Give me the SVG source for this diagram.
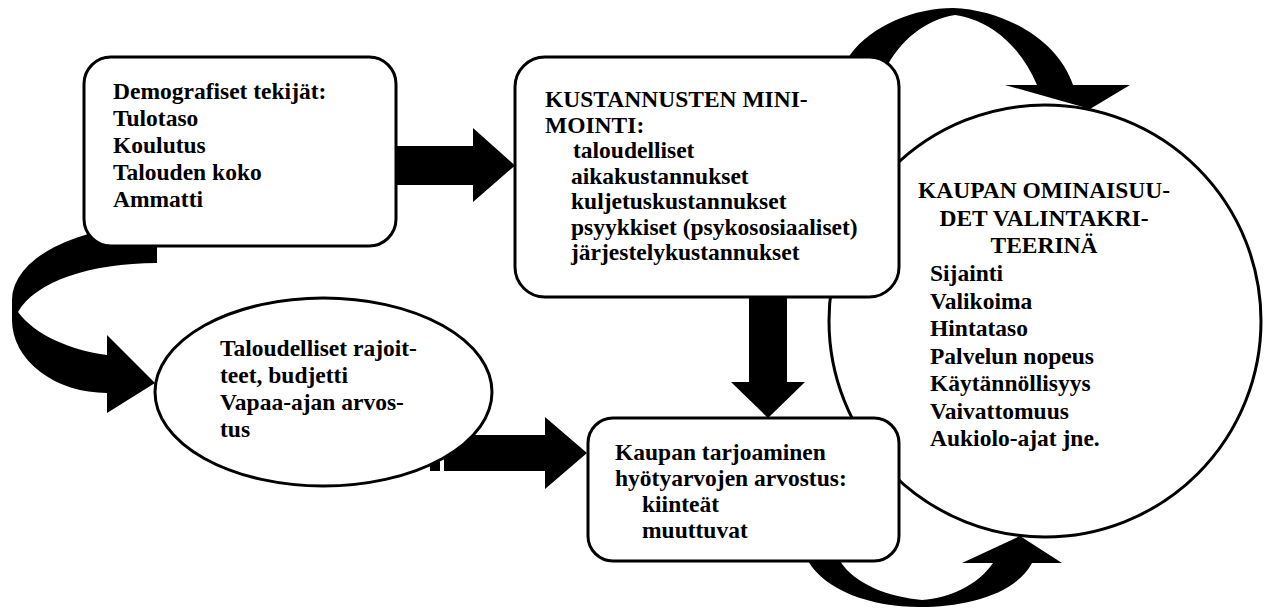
<svg xmlns="http://www.w3.org/2000/svg" width="1269" height="610" viewBox="0 0 1269 610">
<style>
.t{font-family:"Liberation Serif","Times New Roman",serif;font-weight:bold;font-size:23.5px;fill:#000}
.c{text-anchor:middle}
.box{fill:#fff;stroke:#000;stroke-width:3}
.arr{fill:#000;stroke:none}
</style>
<rect width="1269" height="610" fill="#fff"/>
<g id="node-kaupan-ominaisuudet">
<circle cx="1045" cy="321" r="216" class="box" stroke-width="2.5"/>
<text class="t c" x="1044" y="198">KAUPAN OMINAISUU-</text>
<text class="t c" x="1044" y="225.6">DET VALINTAKRI-</text>
<text class="t c" x="1044" y="253">TEERINÄ</text>
<text class="t" x="930" y="281">Sijainti</text>
<text class="t" x="930" y="308.5">Valikoima</text>
<text class="t" x="930" y="336">Hintataso</text>
<text class="t" x="930" y="364">Palvelun nopeus</text>
<text class="t" x="930" y="391">Käytännöllisyys</text>
<text class="t" x="930" y="419">Vaivattomuus</text>
<text class="t" x="930" y="446">Aukiolo-ajat jne.</text>
</g>
<g id="connectors">
<path class="arr" d="M380,146 L473,146 L473,128 L515,165.5 L473,202 L473,185 L380,185 Z"/>
<path class="arr" d="M749,290 L787,290 L787,382 L805,382 L768,418 L731,382 L749,382 Z"/>
<path class="arr" d="M430,435 L545,435 L545,417 L587,453 L545,489 L545,471 L430,471 Z"/>
<rect x="440" y="455" width="4" height="18" fill="#fff"/>
<path class="arr" d="M157,225 A145,75 0 0 0 12,300 L12,320 A95,73 0 0 0 107,393 L107,413 L155,383 L107,335 L107,355 C70,350 35,335 18,312 C35,282 90,263 157,263 Z"/>
<path class="arr" d="M840,75 L850,55 C872,25 915,8 953,8 C1005,10 1058,40 1073,85 L1130,85 L1090,109 L1005,85 L1037,85 C1020,45 990,20 955,15 C925,20 900,40 885,70 Z"/>
<path class="arr" d="M800,545 L808,561 C825,590 870,607 920,607 C965,607 1015,595 1032,563 L1062,563 L1020,536 L962,563 L993,563 C978,585 950,598 922,600 C890,597 855,585 840,561 L835,545 Z"/>
</g>
<g id="node-demografiset">
<rect x="84" y="57" width="312" height="189" rx="27" class="box"/>
<text class="t" x="113" y="99">Demografiset tekijät:</text>
<text class="t" x="113" y="126">Tulotaso</text>
<text class="t" x="113" y="153">Koulutus</text>
<text class="t" x="113" y="180">Talouden koko</text>
<text class="t" x="113" y="207">Ammatti</text>
</g>
<g id="node-kustannusten">
<rect x="515" y="57" width="384" height="240" rx="30" class="box"/>
<text class="t" x="545" y="107">KUSTANNUSTEN MINI-</text>
<text class="t" x="545" y="133">MOINTI:</text>
<text class="t" x="573" y="158">taloudelliset</text>
<text class="t" x="571" y="184">aikakustannukset</text>
<text class="t" x="571" y="209">kuljetuskustannukset</text>
<text class="t" x="571" y="235">psyykkiset (psykososiaaliset)</text>
<text class="t" x="571" y="260">järjestelykustannukset</text>
</g>
<g id="node-taloudelliset">
<ellipse cx="323.5" cy="392" rx="168.5" ry="94" class="box" stroke-width="2.5"/>
<text class="t" x="220" y="356">Taloudelliset rajoit-</text>
<text class="t" x="220" y="383">teet, budjetti</text>
<text class="t" x="220" y="410">Vapaa-ajan arvos-</text>
<text class="t" x="220" y="437">tus</text>
</g>
<g id="node-hyotyarvot">
<rect x="588" y="418" width="311" height="143" rx="25" class="box"/>
<text class="t" x="615" y="460">Kaupan  tarjoaminen</text>
<text class="t" x="615" y="486">hyötyarvojen arvostus:</text>
<text class="t" x="642" y="512">kiinteät</text>
<text class="t" x="642" y="538">muuttuvat</text>
</g>
</svg>
